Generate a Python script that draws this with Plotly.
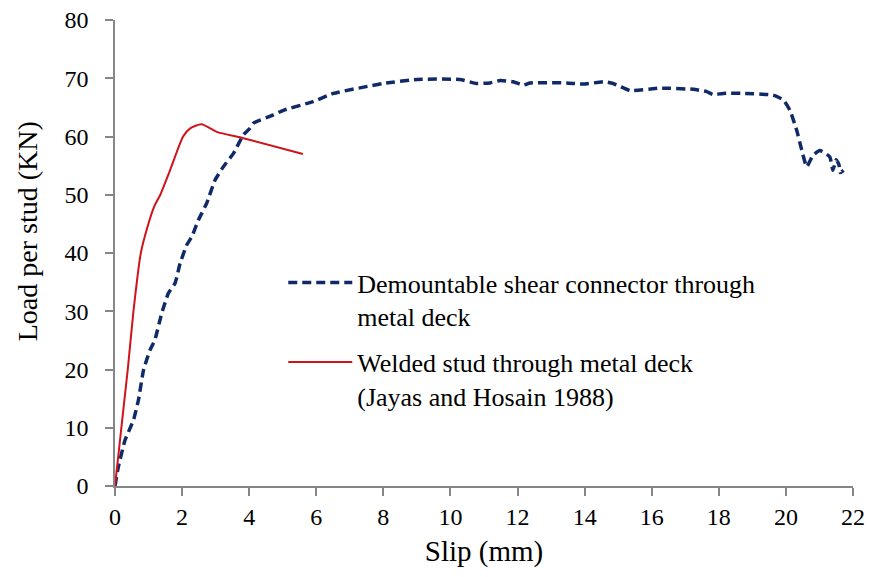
import plotly.graph_objects as go

# Demountable shear connector through metal deck
demount_slip = [0, 0.1, 0.3, 0.55, 0.7, 0.85, 1.04, 1.19, 1.39, 1.59, 1.79, 1.94, 2.14, 2.29,
                2.49, 2.73, 2.98, 3.23, 3.53, 3.83, 4.02, 4.13, 4.72, 5.02, 5.91, 6.51, 8.0,
                9.0, 10.28, 10.78, 11.18, 11.48, 11.87, 12.17, 12.37, 13.46, 13.96, 14.6,
                14.85, 15.35, 16.24, 17.24, 17.64, 17.83, 18.13, 18.73, 19.62, 19.92, 20.12,
                20.32, 20.47, 20.62, 20.81, 21.01, 21.31, 21.4, 21.5, 21.58, 21.62, 21.72]
demount_load = [0, 3.3, 7.9, 11.3, 14.8, 19.9, 23.3, 25.1, 29.6, 33.1, 34.8, 38.2, 41.4, 42.8,
                45.7, 48.5, 52.5, 54.8, 57.1, 60.3, 61.4, 62.3, 63.7, 64.5, 66.0, 67.4, 69.1,
                69.8, 69.8, 69.1, 69.2, 69.6, 69.4, 68.8, 69.2, 69.2, 69.0, 69.4,
                69.1, 67.9, 68.3, 68.1, 67.7, 67.2, 67.4, 67.4, 67.1, 66.3, 64.5,
                61.1, 57.7, 54.8, 56.8, 57.6, 56.5, 54.2, 56.0, 55.2, 53.8, 54.2]

# Welded stud through metal deck (Jayas and Hosain 1988)
welded_slip = [0, 0.38, 0.55, 0.77, 0.97, 1.17, 1.35, 1.64, 2.03, 2.24, 2.58, 3.03, 3.83, 5.6]
welded_load = [0, 20, 30, 40, 44.5, 48, 50, 54.2, 60, 61.4, 62.1, 60.8, 59.7, 57.0]

x_ticks = list(range(0, 23, 2))
y_ticks = list(range(0, 81, 10))

FONT = "Times New Roman, 'Liberation Serif', 'DejaVu Serif', serif"
BLUE = "#0f2a66"
RED = "#d0121b"
AXIS = "#868686"

fig = go.Figure()
fig.add_trace(go.Scatter(
    x=demount_slip, y=demount_load, mode="lines",
    name="Demountable shear connector through<br>metal deck",
    line=dict(color=BLUE, width=3.5, dash="9px,5px", shape="spline", smoothing=0.4),
    legendgroup="a",
))
fig.add_trace(go.Scatter(
    x=welded_slip, y=welded_load, mode="lines",
    name="Welded stud through metal deck<br>(Jayas and Hosain 1988)",
    line=dict(color=RED, width=2, shape="spline", smoothing=0.6),
    legendgroup="b",
))

fig.update_layout(
    width=869, height=577,
    margin=dict(l=115, r=16, t=20, b=91),
    paper_bgcolor="white", plot_bgcolor="white",
    font=dict(family=FONT, color="#000000"),
    showlegend=True,
    legend=dict(
        x=0.228, y=0.487, xanchor="left", yanchor="top",
        font=dict(size=26, family=FONT, color="#000000"),
        itemwidth=64, valign="top", tracegroupgap=9,
        bgcolor="rgba(0,0,0,0)",
    ),
    xaxis=dict(
        range=[0, 22], tickvals=x_ticks, ticktext=[str(v) for v in x_ticks],
        showgrid=False, zeroline=False, automargin=False,
        showline=True, linecolor=AXIS, linewidth=1.5,
        ticks="outside", ticklen=8, tickcolor=AXIS, tickwidth=1.5,
        tickfont=dict(size=24, family=FONT, color="#000000"),
        ticklabelstandoff=0,
        title=dict(text="Slip (mm)", font=dict(size=29, family=FONT, color="#000000"), standoff=12),
    ),
    yaxis=dict(
        range=[0, 80], tickvals=y_ticks, ticktext=[str(v) for v in y_ticks],
        showgrid=False, zeroline=False, automargin=False,
        showline=True, linecolor=AXIS, linewidth=1.5,
        ticks="outside", ticklen=8, tickcolor=AXIS, tickwidth=1.5,
        tickfont=dict(size=24, family=FONT, color="#000000"),
        ticklabelstandoff=12,
    ),
    annotations=[dict(
        text="Load per stud (KN)", textangle=-90,
        xref="paper", yref="paper", x=-0.119, y=0.547,
        xanchor="center", yanchor="middle", showarrow=False,
        font=dict(size=28, family=FONT, color="#000000"),
    )],
)

fig.write_html("out.html")
